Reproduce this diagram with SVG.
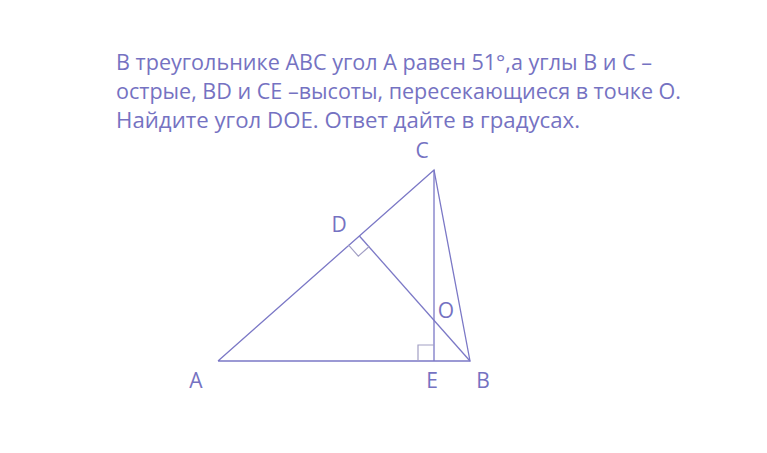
<svg xmlns="http://www.w3.org/2000/svg" width="767" height="453" viewBox="0 0 767 453">
<style>
.t{font-family:"Open Sans","Liberation Sans",sans-serif;fill:#7572C2;font-size:22.5px}
.l{font-family:"Open Sans","Liberation Sans",sans-serif;fill:#7572C2;font-size:21px;text-anchor:middle}
.e{stroke:#7B78C6;stroke-width:1.3;fill:none}
.m{stroke:#A29FC4;stroke-width:1.2;fill:none}
</style>
<rect width="767" height="453" fill="#fff"/>
<g id="problem">
<text class="t" x="116" y="70" textLength="536" lengthAdjust="spacingAndGlyphs">В треугольнике АВС угол А равен 51°,а углы В и С –</text>
<text class="t" x="116" y="99" textLength="565" lengthAdjust="spacingAndGlyphs">острые, BD и CE –высоты, пересекающиеся в точке О.</text>
<text class="t" x="116" y="128" textLength="464" lengthAdjust="spacingAndGlyphs">Найдите угол DOE. Ответ дайте в градусах.</text>
</g>
<g id="connectors">
<polyline class="e" points="218,361 470,361 434,170 218,361"/>
<line class="e" x1="434" y1="170" x2="434" y2="361"/>
<line class="e" x1="470" y1="361" x2="359.4" y2="236"/>
</g>
<g id="marks">
<polyline class="m" points="348.4,244.9 358.3,256.1 369.5,246.2"/>
<polyline class="m" points="418,361 418,345 434,345"/>
</g>
<g id="labels">
<text class="l" x="422" y="158">C</text>
<text class="l" x="339" y="232">D</text>
<text class="l" x="446" y="318">O</text>
<text class="l" x="196" y="388">A</text>
<text class="l" x="432" y="388">E</text>
<text class="l" x="483" y="388">B</text>
</g>
</svg>
